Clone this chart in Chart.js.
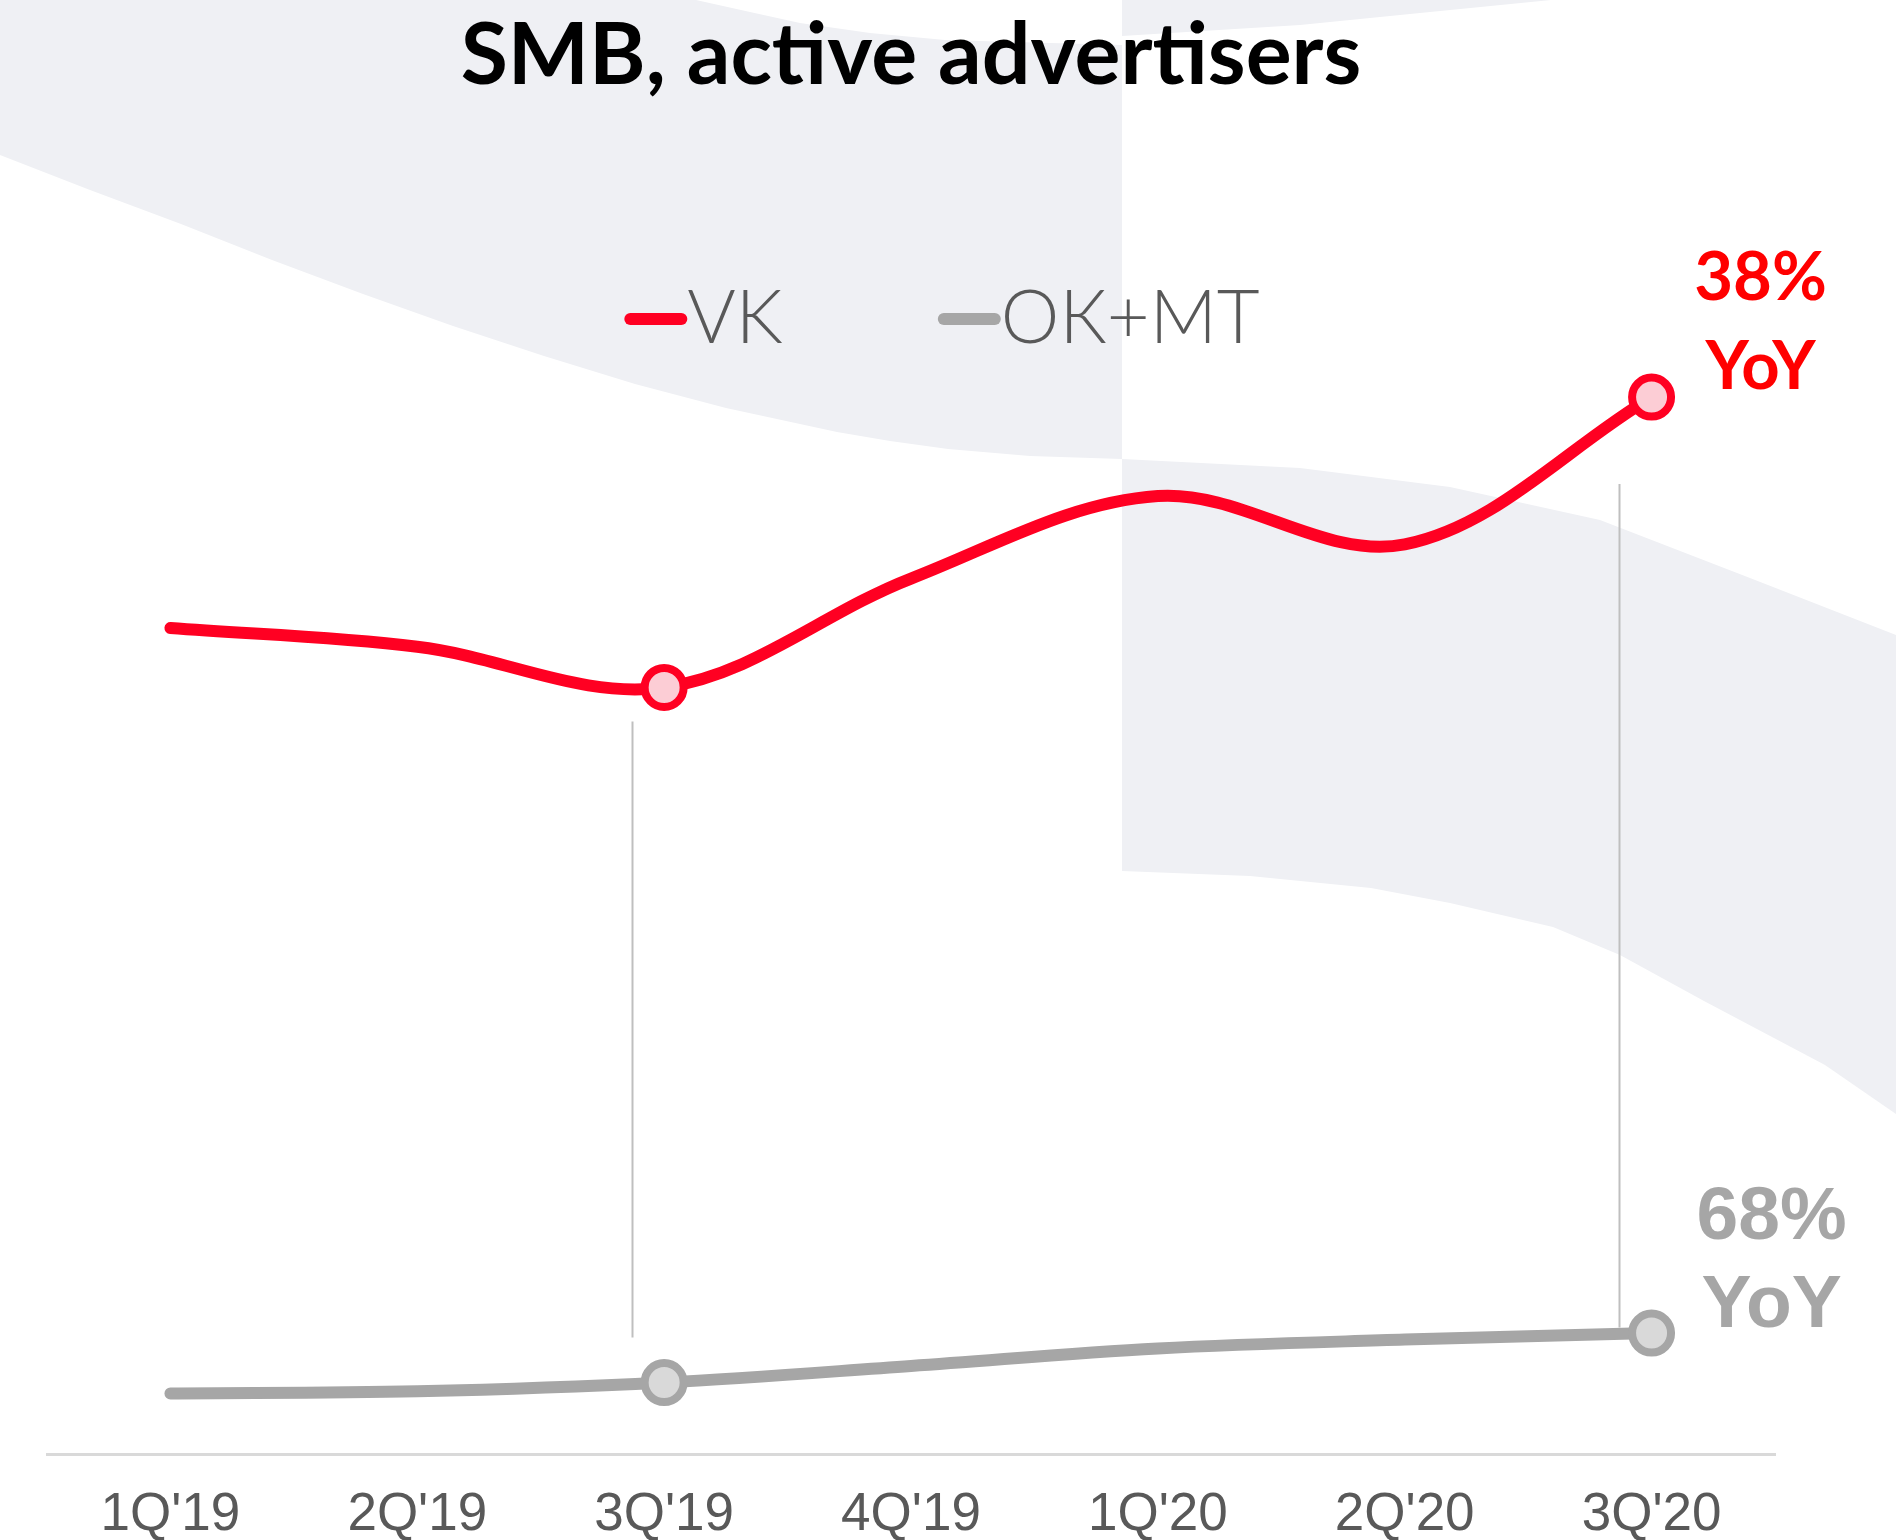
<!DOCTYPE html>
<html lang="en">
<head>
<meta charset="UTF-8">
<title>SMB, active advertisers</title>
<script src="https://cdn.jsdelivr.net/npm/chart.js@4.4.1/dist/chart.umd.min.js"></script>
<style>
	* { box-sizing: border-box; }
	html, body { margin: 0; padding: 0; width: 100%; height: 100%; overflow: hidden; background: #fff; }
	#wrap { width: 1896px; height: 1540px; position: relative; }
</style>
</head>
<body>
<div id="wrap"><canvas id="chart"></canvas></div>
<script>
	// quarters on the x axis
	const quarters = ["1Q'19", "2Q'19", "3Q'19", "4Q'19", "1Q'20", "2Q'20", "3Q'20"];
	// relative index, 0 = the x axis line
	const vkValues = [75.1, 73.4, 69.7, 79.6, 87.1, 82.7, 96.1];
	const okmtValues = [5.5, 5.7, 6.5, 8.0, 9.6, 10.4, 11.0];
	const seriesNames = ["VK", "ОК+МТ"];
	const yoyLabels = ["38%", "68%"];
	// points that get a circle marker
	const markedPoints = [2, 6];
	// thin grey connectors between the two series (x as fractional category index)
	const dropLines = [
		{ at: 1.87, from: 10.6, to: 66.6 },
		{ at: 5.87, from: 11.5, to: 88.2 }
	];

	const ctx = document.getElementById("chart").getContext("2d");

	function fillShape(c, pts) {
		c.beginPath();
		c.moveTo(pts[0][0], pts[0][1]);
		for (let i = 1; i < pts.length; i++) c.lineTo(pts[i][0], pts[i][1]);
		c.closePath();
		c.fill();
	}

	const backdrop = {
		id: 'backdrop',
		beforeDraw(chart) {
			const c = chart.ctx;
			c.save();
			c.fillStyle = '#ffffff';
			c.fillRect(0, 0, chart.width, chart.height);
			c.fillStyle = '#eff0f4';
			// top-left swoosh
			fillShape(c, [[0, 0], [696, 0], [750, 12], [800, 23], [870, 33], [945, 40], [1122, 45], [1122, 459],
				[1030, 456], [948, 449], [890, 441], [837, 432], [726, 408], [635, 384], [544, 356], [453, 326],
				[363, 294], [272, 260], [181, 224], [90, 190], [0, 155]]);
			// small top-right wedge
			fillShape(c, [[1122, 0], [1551, 0], [1420, 13], [1300, 25], [1122, 36]]);
			// right band
			fillShape(c, [[1122, 459], [1300, 468], [1450, 487], [1600, 520], [1750, 578], [1896, 635],
				[1896, 1114], [1825, 1065], [1704, 1001], [1620, 955], [1553, 927], [1450, 903],
				[1371, 888], [1250, 876], [1122, 871]]);
			c.restore();
		}
	};

	const connectors = {
		id: 'connectors',
		beforeDatasetsDraw(chart) {
			const c = chart.ctx, xs = chart.scales.x, ys = chart.scales.y;
			c.save();
			c.strokeStyle = '#bfbfbf';
			c.lineWidth = 2;
			dropLines.forEach(d => {
				const x = Math.round(xs.getPixelForValue(d.at)) + 0.5;
				c.beginPath();
				c.moveTo(x, ys.getPixelForValue(d.to));
				c.lineTo(x, ys.getPixelForValue(d.from));
				c.stroke();
			});
			c.restore();
		}
	};

	const yoyText = {
		id: 'yoyText',
		afterDatasetsDraw(chart) {
			const c = chart.ctx;
			const styles = [
				{ font: 'bold 67px Lato', color: '#ff0000', dx: 109, top: -97, bottom: -8 },
				{ font: 'bold 75px "Liberation Sans"', color: '#a6a6a6', dx: 120, top: -94, bottom: -6 }
			];
			c.save();
			c.textAlign = 'center';
			c.textBaseline = 'alphabetic';
			chart.data.datasets.forEach((ds, i) => {
				const meta = chart.getDatasetMeta(i);
				const p = meta.data[meta.data.length - 1];
				const s = styles[i];
				c.font = s.font;
				c.fillStyle = s.color;
				c.fillText(yoyLabels[i], p.x + s.dx, p.y + s.top);
				c.fillText('YoY', p.x + s.dx, p.y + s.bottom);
			});
			c.restore();
		}
	};

	const lineLegend = {
		id: 'lineLegend',
		afterDraw(chart) {
			const c = chart.ctx;
			c.save();
			c.font = '300 74px Lato';
			const items = chart.data.datasets.map(ds => ({
				text: ds.label, color: ds.borderColor, w: c.measureText(ds.label).width
			}));
			const mark = 63, gap = 155;
			const total = items.reduce((s, it) => s + mark + it.w, 0) + gap * (items.length - 1);
			let x = 942 - total / 2;
			items.forEach(it => {
				c.strokeStyle = it.color;
				c.lineWidth = 12;
				c.lineCap = 'round';
				c.beginPath();
				c.moveTo(x + 6, 319);
				c.lineTo(x + 57, 319);
				c.stroke();
				c.fillStyle = '#595959';
				c.textAlign = 'left';
				c.textBaseline = 'alphabetic';
				c.fillText(it.text, x + mark, 343);
				x += mark + it.w + gap;
			});
			c.restore();
		}
	};

	const markerRadius = quarters.map((q, i) => markedPoints.includes(i) ? 19.5 : 0);

	const datasets = [
		{
			label: seriesNames[0],
			data: vkValues,
			borderColor: '#ff0022',
			borderWidth: 12,
			borderCapStyle: 'round',
			tension: 0.35,
			pointRadius: markerRadius,
			pointHoverRadius: markerRadius,
			pointBackgroundColor: '#fccdd5',
			pointBorderColor: '#ff0022',
			pointBorderWidth: 8
		},
		{
			label: seriesNames[1],
			data: okmtValues,
			borderColor: '#a6a6a6',
			borderWidth: 12,
			borderCapStyle: 'round',
			tension: 0.35,
			pointRadius: markerRadius,
			pointHoverRadius: markerRadius,
			pointBackgroundColor: '#d9d9d9',
			pointBorderColor: '#a6a6a6',
			pointBorderWidth: 8
		}
	];

	const config = {
		type: 'line',
		data: { labels: quarters, datasets },
		plugins: [backdrop, connectors, yoyText, lineLegend],
		options: {
			responsive: true,
			maintainAspectRatio: false,
			animation: false,
			devicePixelRatio: 1,
			layout: { padding: { top: 0, right: 121, bottom: -37, left: 47 } },
			plugins: {
				legend: { display: false },
				tooltip: { enabled: false },
				title: {
					display: true,
					text: 'SMB, active advertisers',
					color: '#000000',
					font: { family: 'Lato', weight: 'bold', size: 86, lineHeight: 1.2 },
					padding: { top: 5, bottom: 246 }
				}
			},
			scales: {
				x: {
					offset: true,
					grid: { display: false, drawTicks: false, offset: true },
					border: { display: true, color: '#d9d9d9', width: 3 },
					ticks: {
						color: '#595959',
						font: { family: 'Liberation Sans', size: 53, lineHeight: 1 },
						padding: 35,
						maxRotation: 0,
						autoSkip: false
					}
				},
				y: {
					display: false,
					min: 0,
					max: 100
				}
			}
		}
	};

	const chart = new Chart(ctx, config);
</script>
</body>
</html>
